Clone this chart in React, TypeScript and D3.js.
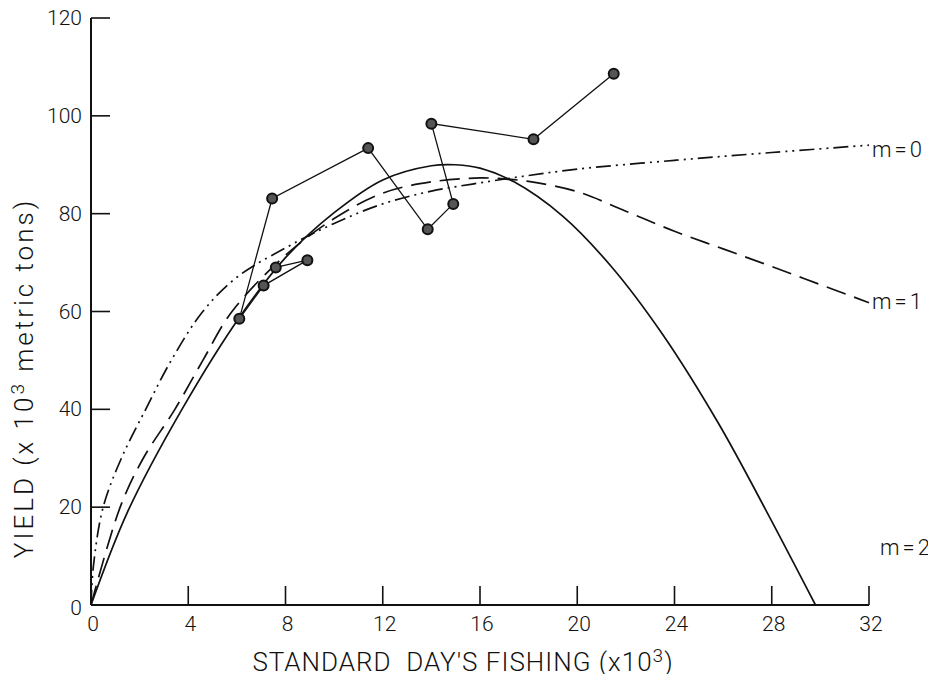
import { useEffect, useRef } from "react";
import * as d3 from "d3";

// fishing effort (x10^3 standard days) and yield (x10^3 metric tons)
const obsEffort = [7.6, 8.9, 7.1, 6.1, 7.45, 11.4, 13.85, 14.9, 14.0, 18.2, 21.5];
const obsYield = [69.0, 70.5, 65.3, 58.5, 83.1, 93.4, 76.8, 82.0, 98.4, 95.2, 108.6];

// curves
const m0Effort = [0, 0.1, 0.5, 1.25, 2.25, 3.3, 4.6, 6, 8, 10, 12, 14, 16, 18, 20, 24, 28, 32];
const m0Yield = [0, 8, 20, 30, 40, 50, 60, 67, 73, 78, 82, 84.6, 86.3, 87.8, 89.1, 90.9, 92.5, 94];

const m1Effort = [0, 1.2, 2.15, 3.45, 4.6, 5.8, 8, 10, 12, 14, 16, 17, 18, 20, 22, 24, 26, 28, 30, 32];
const m1Yield = [0, 20, 30, 40, 50, 60, 71.5, 79, 84.2, 86.5, 87.3, 87.1, 86.6, 84.5, 80.5, 76.4, 72.8, 69.2, 65.5, 61.8];

const m2Effort = [0, 1.5, 3.74, 6.13, 8, 10, 12, 14, 15, 16, 17.4, 19.4, 21.4, 23.5, 25.8, 27.8, 29.8];
const m2Yield = [0, 19, 40, 59, 71, 80.2, 86.9, 89.8, 90, 89.3, 86.5, 79.5, 69.2, 55.4, 37.2, 19, 0];

const xTicks = [0, 4, 8, 12, 16, 20, 24, 28, 32];
const yTicks = [0, 20, 40, 60, 80, 100, 120];

const App = () => {
  const svgRef = useRef<SVGSVGElement | null>(null);

  useEffect(() => {
    if (!svgRef.current) return;
    const svg = d3.select(svgRef.current);
    svg.selectAll("*").remove();

    const font = "Roboto, 'DejaVu Sans', sans-serif";
    const x = d3.scaleLinear().domain([0, 32]).range([91, 869]);
    const y = d3.scaleLinear().domain([0, 120]).range([605, 18]);
    const tickLen = 19;

    const g = svg.append("g");

    // axes
    g.append("line")
      .attr("x1", x(0)).attr("x2", x(32))
      .attr("y1", y(0)).attr("y2", y(0))
      .attr("stroke", "#111").attr("stroke-width", 2);
    g.append("line")
      .attr("x1", x(0)).attr("x2", x(0))
      .attr("y1", y(0)).attr("y2", y(120))
      .attr("stroke", "#111").attr("stroke-width", 2);

    g.selectAll("line.xtick")
      .data(xTicks.filter((d) => d > 0))
      .enter()
      .append("line")
      .attr("class", "xtick")
      .attr("x1", (d) => x(d)).attr("x2", (d) => x(d))
      .attr("y1", y(0)).attr("y2", y(0) - tickLen)
      .attr("stroke", "#111").attr("stroke-width", 1.6);

    g.selectAll("line.ytick")
      .data(yTicks.filter((d) => d > 0))
      .enter()
      .append("line")
      .attr("class", "ytick")
      .attr("x1", x(0)).attr("x2", x(0) + tickLen)
      .attr("y1", (d) => y(d)).attr("y2", (d) => y(d))
      .attr("stroke", "#111").attr("stroke-width", 1.6);

    g.selectAll("text.xlab")
      .data(xTicks)
      .enter()
      .append("text")
      .attr("class", "xlab")
      .attr("x", (d) => x(d) + 2)
      .attr("y", y(0) + 26)
      .attr("text-anchor", "middle")
      .attr("font-family", font)
      .attr("font-weight", 300)
      .attr("font-size", 21)
      .attr("fill", "#111")
      .text((d) => d);

    g.selectAll("text.ylab")
      .data(yTicks)
      .enter()
      .append("text")
      .attr("class", "ylab")
      .attr("x", x(0) - 9)
      .attr("y", (d) => y(d) + 7 + (d === 0 ? 3 : 0))
      .attr("text-anchor", "end")
      .attr("font-family", font)
      .attr("font-weight", 300)
      .attr("font-size", 21)
      .attr("fill", "#111")
      .text((d) => d);

    // axis titles
    const xt = g.append("text")
      .attr("x", 463)
      .attr("y", 671)
      .attr("text-anchor", "middle")
      .attr("font-family", font)
      .attr("font-weight", 300)
      .attr("font-size", 26)
      .attr("letter-spacing", 1)
      .attr("fill", "#111");
    xt.append("tspan").text("STANDARD\u00a0\u00a0DAY'S FISHING (x10");
    xt.append("tspan").attr("dy", -9).attr("font-size", 19).text("3");
    xt.append("tspan").attr("dy", 9).text(")");

    const yt = g.append("text")
      .attr("transform", "translate(33,378) rotate(-90)")
      .attr("text-anchor", "middle")
      .attr("font-family", font)
      .attr("font-weight", 300)
      .attr("font-size", 26)
      .attr("letter-spacing", 3)
      .attr("fill", "#111");
    yt.append("tspan").text("YIELD (x 10");
    yt.append("tspan").attr("dy", -9).attr("font-size", 19).text("3");
    yt.append("tspan").attr("dy", 9).text(" metric tons)");

    // model curves
    const line = d3
      .line<[number, number]>()
      .x((d) => x(d[0]))
      .y((d) => y(d[1]))
      .curve(d3.curveCatmullRom.alpha(0.5));

    const curves = [
      { e: m0Effort, v: m0Yield, dash: "15 5 2 5 2 5" },
      { e: m1Effort, v: m1Yield, dash: "20 9" },
      { e: m2Effort, v: m2Yield, dash: null },
    ];
    curves.forEach((c) => {
      const pts = c.e.map((e, i) => [e, c.v[i]] as [number, number]);
      const p = g.append("path")
        .attr("d", line(pts))
        .attr("fill", "none")
        .attr("stroke", "#111")
        .attr("stroke-width", 1.7);
      if (c.dash) p.attr("stroke-dasharray", c.dash);
    });

    // observed series
    const obs = obsEffort.map((e, i) => [e, obsYield[i]] as [number, number]);
    g.append("path")
      .attr("d", d3.line<[number, number]>().x((d) => x(d[0])).y((d) => y(d[1]))(obs))
      .attr("fill", "none")
      .attr("stroke", "#111")
      .attr("stroke-width", 1.3);
    g.selectAll("circle.obs")
      .data(obs)
      .enter()
      .append("circle")
      .attr("class", "obs")
      .attr("cx", (d) => x(d[0]))
      .attr("cy", (d) => y(d[1]))
      .attr("r", 5)
      .attr("fill", "#555")
      .attr("stroke", "#111")
      .attr("stroke-width", 2);

    // curve labels
    const labels = [
      { t: "m=0", x: 872, y: 157 },
      { t: "m=1", x: 872, y: 309 },
      { t: "m=2", x: 880, y: 555 },
    ];
    g.selectAll("text.mlab")
      .data(labels)
      .enter()
      .append("text")
      .attr("class", "mlab")
      .attr("x", (d) => d.x)
      .attr("y", (d) => d.y)
      .attr("font-family", font)
      .attr("font-weight", 300)
      .attr("font-size", 22)
      .attr("letter-spacing", 3)
      .attr("fill", "#111")
      .text((d) => d.t);
  }, []);

  return (
    <div style={{ margin: -8, background: "#fff" }}>
      <svg ref={svgRef} width={936} height={682} style={{ display: "block" }}></svg>
    </div>
  );
};

export default App;
